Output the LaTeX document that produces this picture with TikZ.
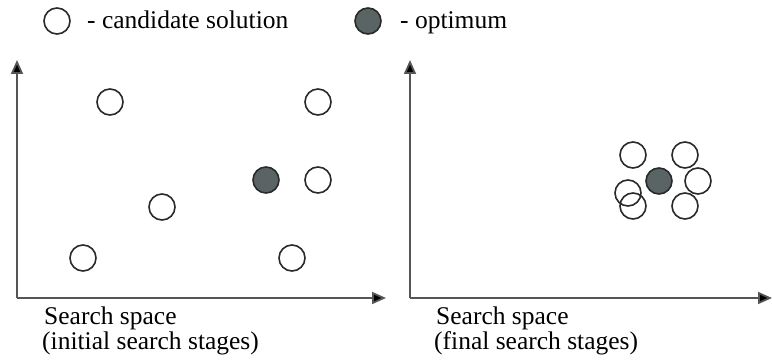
\documentclass[tikz,border=0pt]{standalone}
\usepackage{fontspec}
\setmainfont{Liberation Serif}
\usetikzlibrary{arrows.meta}
\definecolor{axisgray}{HTML}{555555}
\definecolor{optfill}{HTML}{5A6464}
\definecolor{ringcol}{HTML}{2A2A2A}
\tikzset{
  cand/.style={circle, draw=ringcol, line width=1.6pt, minimum size=26pt, inner sep=0pt},
  opt/.style={cand, fill=optfill},
  axis/.style={draw=axisgray, line width=1.8pt, -{Triangle[length=14pt,width=12pt,fill=black]}},
  lbl/.style={anchor=base west, inner sep=0pt, font=\fontsize{25.5}{30}\selectfont},
}
\begin{document}
\begin{tikzpicture}[x=1pt,y=-1pt]
\useasboundingbox (0,0) rectangle (772,363);

% legend
\node[cand] (legc) at (57,21) {};
\node[lbl] (legct) at (87,29) {- candidate solution};
\node[opt] (lego) at (368,21) {};
\node[lbl] (legot) at (400,29) {- optimum};

% left panel axes
\coordinate (lo) at (17,298);
\coordinate (ly) at (17,60);
\coordinate (lx) at (386,298);
\draw[axis] (lo) -- (ly);
\draw[axis] (lo) -- (lx);

% right panel axes
\coordinate (ro) at (410,298);
\coordinate (ry) at (410,60);
\coordinate (rx) at (772,298);
\draw[axis] (ro) -- (ry);
\draw[axis] (ro) -- (rx);

% initial search stages: scattered candidates
\node[cand] (a1) at (110,102) {};
\node[cand] (a2) at (318,102) {};
\node[opt]  (a0) at (266,180) {};
\node[cand] (a3) at (318,180) {};
\node[cand] (a4) at (162,207) {};
\node[cand] (a5) at (83,258) {};
\node[cand] (a6) at (292,258) {};

% final search stages: candidates clustered round the optimum
\node[cand] (b1) at (633,155) {};
\node[cand] (b2) at (685,155) {};
\node[cand] (b3) at (698,181) {};
\node[cand] (b4) at (628,193) {};
\node[cand] (b5) at (633,206) {};
\node[cand] (b6) at (685,206) {};
\node[opt]  (b0) at (659,181) {};

% axis captions
\node[lbl] (lc1) at (44,325) {Search space};
\node[lbl] (lc2) at (42,350) {(initial search stages)};
\node[lbl] (rc1) at (436,325) {Search space};
\node[lbl] (rc2) at (434,350) {(final search stages)};
\end{tikzpicture}
\end{document}
